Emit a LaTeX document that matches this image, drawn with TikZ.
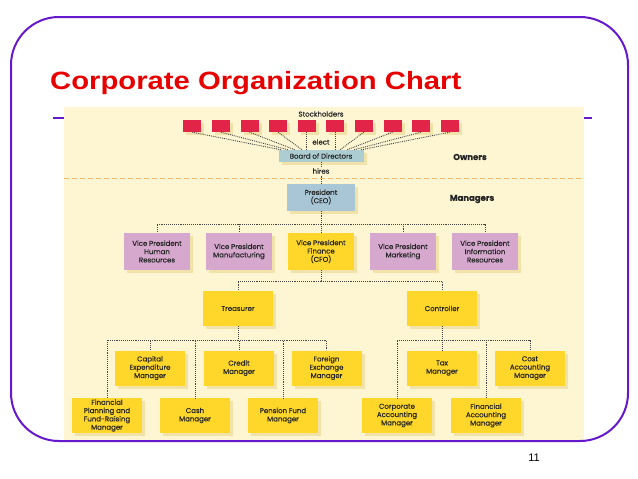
\documentclass[tikz,border=0pt]{standalone}
\usepackage{fontspec}
\usepackage{graphicx}
\setmainfont{Liberation Sans}
\newfontfamily\chartfont[FakeBold=0.35]{Poppins}
\usetikzlibrary{shadows,calc}
\definecolor{framepurple}{RGB}{102,24,204}
\definecolor{titlered}{RGB}{230,0,0}
\definecolor{chartcream}{RGB}{254,246,210}
\definecolor{boxyellow}{RGB}{255,214,42}
\definecolor{boxpink}{RGB}{214,168,206}
\definecolor{boxblue}{RGB}{168,198,214}
\definecolor{boardblue}{RGB}{172,206,210}
\definecolor{ownerred}{RGB}{226,36,72}
\definecolor{boxshadow}{RGB}{240,226,168}
\definecolor{lineorange}{RGB}{240,184,104}
\definecolor{wiregray}{RGB}{70,70,70}
\begin{document}
\begin{tikzpicture}[x=1pt,y=-1pt]
	\tikzstyle{every node}+=[inner sep=0pt]
	\tikzstyle{shadowed}=[drop shadow={shadow xshift=3pt,shadow yshift=-3pt,fill=boxshadow,opacity=1}]
	\tikzstyle{orgbox}=[rectangle,shadowed,align=center,text=black!85,font=\chartfont\fontsize{7}{8.3}\selectfont]
	\tikzstyle{vp}=[orgbox,fill=boxpink,minimum width=66pt,minimum height=37pt]
	\tikzstyle{fin}=[orgbox,fill=boxyellow,minimum width=70pt,minimum height=35pt]
	\tikzstyle{holder}=[rectangle,shadowed,fill=ownerred,minimum width=18pt,minimum height=12pt]
	\tikzstyle{wire}=[densely dotted,line width=0.9pt,wiregray]
	\tikzstyle{smalltext}=[text=black!85,font=\chartfont\fontsize{7}{8.3}\selectfont]
	\tikzstyle{tier}=[text=black!85,font=\chartfont\bfseries\fontsize{8.5}{10}\selectfont]
	\useasboundingbox (0,0) rectangle (638,479);
	\fill [white] (0,0) rectangle (638,479);
	\draw [framepurple,line width=2.5pt] (53,118) -- (592,118);
	\fill [chartcream] (64,107) rectangle (584,440);
	\draw [framepurple,line width=2pt,rounded corners=48pt] (11,17) rectangle (628,441);
	\draw (50,89) node [anchor=base west,text=titlered,font=\bfseries\fontsize{25}{30}\selectfont] (ttl) {\scalebox{1.17}[1]{Corporate Organization Chart}};
	\draw (534,458) node [font=\fontsize{11}{13}\selectfont] (pg) {11};
	\draw (321,114) node [smalltext] (stk) {Stockholders};
	\draw (192.3,126) node [holder] (sh1) {};
	\draw (220.9,126) node [holder] (sh2) {};
	\draw (249.5,126) node [holder] (sh3) {};
	\draw (278.1,126) node [holder] (sh4) {};
	\draw (306.7,126) node [holder] (sh5) {};
	\draw (335.3,126) node [holder] (sh6) {};
	\draw (363.9,126) node [holder] (sh7) {};
	\draw (392.5,126) node [holder] (sh8) {};
	\draw (421.1,126) node [holder] (sh9) {};
	\draw (449.7,126) node [holder] (sh10) {};
	\draw (321,156) node [orgbox,fill=boardblue,minimum width=85pt,minimum height=12pt] (bod) {Board of Directors};
	\draw [wire] (sh1.south) -- ($(bod.north)+(-40,0)$);
	\draw [wire] (sh2.south) -- ($(bod.north)+(-33,0)$);
	\draw [wire] (sh3.south) -- ($(bod.north)+(-26,0)$);
	\draw [wire] (sh4.south) -- ($(bod.north)+(-19,0)$);
	\draw [wire] (sh5.south) -- (sh5.south |- bod.north);
	\draw [wire] (sh6.south) -- (sh6.south |- bod.north);
	\draw [wire] (sh7.south) -- ($(bod.north)+(19,0)$);
	\draw [wire] (sh8.south) -- ($(bod.north)+(26,0)$);
	\draw [wire] (sh9.south) -- ($(bod.north)+(33,0)$);
	\draw [wire] (sh10.south) -- ($(bod.north)+(40,0)$);
	\draw (321,142) node [smalltext] (elect) {elect};
	\draw [lineorange,dash pattern=on 5pt off 3pt,line width=1pt] (64,178) -- (584,178);
	\draw (470,157) node [tier] (own) {Owners};
	\draw (472,199) node [tier] (mgr) {Managers};
	\draw (321,197) node [orgbox,fill=boxblue,minimum width=68pt,minimum height=27pt] (ceo) {President\\(CEO)};
	\draw [wire] (bod.south) -- (ceo.north);
	\draw (321,171) node [smalltext,fill=chartcream,inner sep=1pt] (hires) {hires};
	\draw (157,251.5) node [vp] (vphr) {Vice President\\Human\\Resources};
	\draw (239,251.5) node [vp] (vpmf) {Vice President\\Manufacturing};
	\draw (321,251.5) node [fin,minimum width=66pt,minimum height=37pt] (vpfin) {Vice President\\Finance\\(CFO)};
	\draw (403,251.5) node [vp] (vpmk) {Vice President\\Marketing};
	\draw (485,251.5) node [vp] (vpir) {Vice President\\Information\\Resources};
	\coordinate (busa) at (321,224);
	\draw [wire] (ceo.south) -- (busa);
	\draw [wire] (busa) -| (vphr.north);
	\draw [wire] (busa) -| (vpmf.north);
	\draw [wire] (busa) -- (vpfin.north);
	\draw [wire] (busa) -| (vpmk.north);
	\draw [wire] (busa) -| (vpir.north);
	\draw (238,308.5) node [fin] (tre) {Treasurer};
	\draw (442,308.5) node [fin] (ctl) {Controller};
	\coordinate (busb) at (321,281);
	\draw [wire] (vpfin.south) -- (busb);
	\draw [wire] (busb) -| (tre.north);
	\draw [wire] (busb) -| (ctl.north);
	\draw (150,368) node [fin] (cem) {Capital\\Expenditure\\Manager};
	\draw (239,368) node [fin] (crm) {Credit\\Manager};
	\draw (326.5,368) node [fin] (fem) {Foreign\\Exchange\\Manager};
	\draw (107,415.5) node [fin] (fpm) {Financial\\Planning and\\Fund-Raising\\Manager};
	\draw (195,415.5) node [fin] (cmg) {Cash\\Manager};
	\draw (283,415.5) node [fin] (pfm) {Pension Fund\\Manager};
	\coordinate (busc) at (238,340);
	\draw [wire] (tre.south) -- (busc);
	\draw [wire] (busc) -| (fpm.north);
	\draw [wire] (busc) -| (cem.north);
	\draw [wire] (busc) -| (cmg.north);
	\draw [wire] (busc) -| (crm.north);
	\draw [wire] (busc) -| (pfm.north);
	\draw [wire] (busc) -| (fem.north);
	\draw (442,368) node [fin] (tax) {Tax\\Manager};
	\draw (530,368) node [fin] (cost) {Cost\\Accounting\\Manager};
	\draw (397,415.5) node [fin] (cam) {Corporate\\Accounting\\Manager};
	\draw (486,415.5) node [fin] (fam) {Financial\\Accounting\\Manager};
	\coordinate (busd) at (442,340);
	\draw [wire] (ctl.south) -- (busd);
	\draw [wire] (busd) -| (cam.north);
	\draw [wire] (busd) -- (tax.north);
	\draw [wire] (busd) -| (fam.north);
	\draw [wire] (busd) -| (cost.north);
\end{tikzpicture}
\end{document}
